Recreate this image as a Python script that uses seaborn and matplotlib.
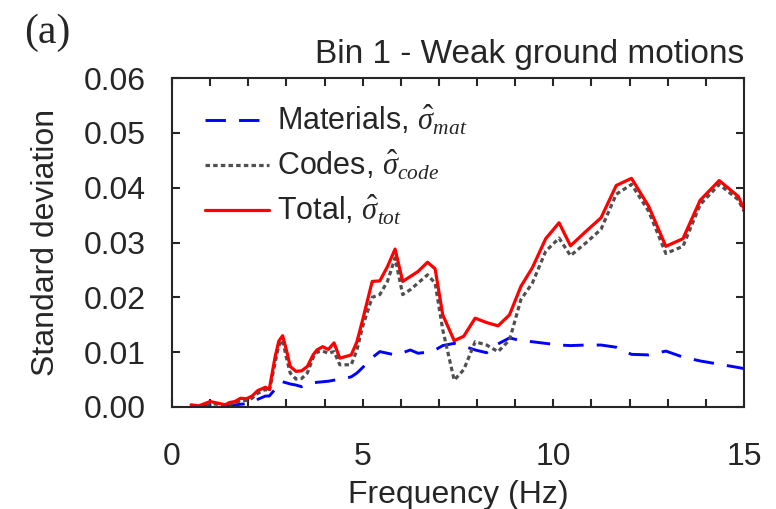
import numpy as np
import pandas as pd
import matplotlib
matplotlib.use('Agg')
import matplotlib.pyplot as plt
import seaborn as sns

# frequency grid (Hz) and standard deviations
freq = [0.5, 0.7, 1.0, 1.2, 1.4, 1.5, 1.65, 1.8, 1.95, 2.1, 2.25, 2.45, 2.55,
        2.7, 2.8, 2.9, 3.0, 3.1, 3.25, 3.4, 3.55, 3.7, 3.8, 3.95, 4.1, 4.25,
        4.4, 4.7, 4.85, 5.0, 5.25, 5.45, 5.65, 5.85, 6.05, 6.25, 6.45, 6.7,
        6.9, 7.1, 7.4, 7.65, 7.95, 8.25, 8.55, 8.85, 9.15, 9.45, 9.8, 10.15,
        10.45, 10.85, 11.25, 11.65, 12.05, 12.5, 12.95, 13.4, 13.85, 14.35,
        14.85, 15.0]

sigma_mat = [0.0000, 0.0000, 0.0003, 0.0004, 0.0002, 0.0003, 0.0004, 0.0005,
             0.0006, 0.0008, 0.0014, 0.0020, 0.0020, 0.0032, 0.0044, 0.0046,
             0.0044, 0.0042, 0.0040, 0.0037, 0.0040, 0.0044, 0.0045, 0.0046,
             0.0047, 0.0049, 0.0050, 0.0055, 0.0062, 0.0072, 0.0090, 0.0101,
             0.0098, 0.0095, 0.0099, 0.0104, 0.0098, 0.0100, 0.0104, 0.0112,
             0.0116, 0.0111, 0.0104, 0.0099, 0.0115, 0.0126, 0.0121, 0.0119,
             0.0116, 0.0113, 0.0112, 0.0113, 0.0113, 0.0109, 0.0096, 0.0095,
             0.0102, 0.0091, 0.0084, 0.0078, 0.0072, 0.0070]

sigma_code = [0.0002, 0.0001, 0.0006, 0.0005, 0.0002, 0.0005, 0.0007, 0.0012,
              0.0012, 0.0016, 0.0025, 0.0032, 0.0028, 0.0080, 0.0112, 0.0122,
              0.0090, 0.0062, 0.0051, 0.0052, 0.0062, 0.0090, 0.0100, 0.0102,
              0.0098, 0.0101, 0.0077, 0.0077, 0.0104, 0.0147, 0.0200, 0.0205,
              0.0229, 0.0272, 0.0205, 0.0214, 0.0226, 0.0241, 0.0226, 0.0141,
              0.0049, 0.0068, 0.0119, 0.0113, 0.0101, 0.0122, 0.0196, 0.0226,
              0.0284, 0.0308, 0.0276, 0.0299, 0.0324, 0.0388, 0.0406, 0.0357,
              0.0280, 0.0293, 0.0369, 0.0406, 0.0378, 0.0357]

sigma_tot = [0.0004, 0.0002, 0.0010, 0.0007, 0.0004, 0.0008, 0.0010, 0.0016,
             0.0015, 0.0020, 0.0030, 0.0036, 0.0032, 0.0090, 0.0120, 0.0130,
             0.0104, 0.0074, 0.0065, 0.0066, 0.0074, 0.0095, 0.0104, 0.0110,
             0.0105, 0.0117, 0.0089, 0.0095, 0.0119, 0.0159, 0.0229, 0.0230,
             0.0256, 0.0288, 0.0229, 0.0238, 0.0247, 0.0264, 0.0252, 0.0168,
             0.0121, 0.0129, 0.0162, 0.0154, 0.0148, 0.0168, 0.0220, 0.0254,
             0.0307, 0.0336, 0.0294, 0.0320, 0.0345, 0.0404, 0.0417, 0.0366,
             0.0293, 0.0307, 0.0377, 0.0413, 0.0384, 0.0361]

x_ticks = [0, 5, 10, 15]
y_ticks = [0.00, 0.01, 0.02, 0.03, 0.04, 0.05, 0.06]

sns.set_theme(style='ticks')
plt.rcParams['font.family'] = ['Liberation Sans', 'DejaVu Sans']
plt.rcParams['mathtext.fontset'] = 'custom'
plt.rcParams['mathtext.rm'] = 'Liberation Serif'
plt.rcParams['mathtext.it'] = 'Liberation Serif:italic'
plt.rcParams['mathtext.fallback'] = 'cm'

df = pd.DataFrame({'freq': freq, 'mat': sigma_mat, 'code': sigma_code, 'tot': sigma_tot})

fig = plt.figure(figsize=(7.76, 5.09), dpi=100)
ax = fig.add_axes([172 / 776, 1 - 407 / 509, (744 - 172) / 776, (407 - 78) / 509])

sns.lineplot(data=df, x='freq', y='mat', ax=ax, color='#0000FF', linewidth=2.1,
             linestyle=(0, (7, 4.5)), label=r'Materials, $\hat{\sigma}_{mat}$')
sns.lineplot(data=df, x='freq', y='code', ax=ax, color='#505050', linewidth=2.3,
             linestyle=(0, (1.4, 1.0)), label=r'Codes, $\hat{\sigma}_{code}$')
sns.lineplot(data=df, x='freq', y='tot', ax=ax, color='#FF0000', linewidth=2.3,
             label=r'Total, $\hat{\sigma}_{tot}$')

ax.set_xlim(0, 15)
ax.set_ylim(0, 0.06)
ax.set_xticks(x_ticks)
ax.set_xticks(np.arange(0, 16, 1), minor=True)
ax.set_yticks(y_ticks)
ax.set_yticklabels([f'{v:.2f}' for v in y_ticks])

for side in ['top', 'right', 'left', 'bottom']:
    ax.spines[side].set_visible(True)
    ax.spines[side].set_linewidth(1.5)
    ax.spines[side].set_color('#262626')

ax.tick_params(axis='both', which='both', direction='in', top=True, right=True,
               length=6, width=1.5, color='#262626')
ax.tick_params(axis='x', which='major', labelsize=23, pad=25, colors='#262626')
ax.tick_params(axis='y', which='major', labelsize=23, pad=19, colors='#262626')

ax.set_xlabel('Frequency (Hz)', fontsize=23, labelpad=6, color='#262626')
ax.set_ylabel('Standard deviation', fontsize=23, labelpad=16, color='#262626')
ax.set_title('Bin 1 - Weak ground motions', loc='right', fontsize=24, pad=11)

ax.legend(loc='upper left', frameon=False, fontsize=22, handlelength=2.1,
          handletextpad=0.25, labelspacing=0.36, borderaxespad=0.2,
          bbox_to_anchor=(0.026, 0.98))

fig.text(47 / 776, 1 - 33 / 509, '(a)', family='Liberation Serif', fontsize=30,
         ha='center', va='center', color='#262626')

fig.savefig('out.png', dpi=100)
